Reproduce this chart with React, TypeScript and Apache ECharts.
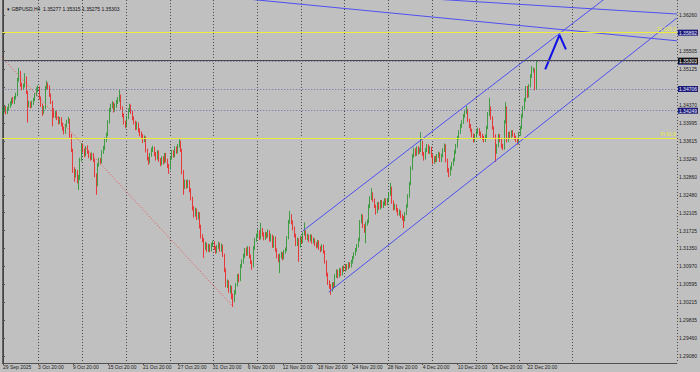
import React, { useEffect, useRef } from "react";
import * as echarts from "echarts";

// GBPUSD H4 — prices stored as pips above 1.30000
const BASE = 1.3;
const FIRST_OPEN = 420;
const CLOSE = [
  426,431,422,429,435,439,448,443,452,458,
  490,506,479,473,477,494,464,437,439,435,
  441,448,458,469,473,452,437,422,431,473,
  479,475,458,443,426,414,420,410,401,408,
  397,389,380,393,401,405,372,342,300,290,
  296,279,283,321,351,342,332,346,338,330,
  325,332,321,290,269,311,321,317,338,346,
  363,374,401,426,435,439,426,435,443,448,
  456,431,416,401,393,410,426,435,422,410,
  401,389,397,384,376,372,363,368,342,325,
  317,332,342,346,334,325,338,321,313,325,
  317,332,321,309,304,325,338,330,346,338,
  351,359,342,296,266,275,266,275,258,241,
  220,205,216,199,208,182,161,153,136,144,
  132,140,132,142,146,136,128,138,144,132,
  140,121,90,58,64,48,52,35,27,43,
  58,77,69,98,107,119,132,123,136,119,
  107,98,136,153,161,170,157,174,165,157,
  165,161,170,153,161,140,157,132,119,111,
  119,123,115,128,132,157,191,203,191,178,
  163,144,153,140,157,149,165,170,157,161,
  153,161,149,153,144,140,149,136,132,140,
  128,107,81,64,56,48,60,56,77,86,
  77,90,81,94,90,98,94,102,98,107,
  115,123,132,140,153,191,203,182,174,187,
  191,224,241,250,237,224,212,229,220,233,
  224,229,237,229,237,250,262,233,220,224,
  216,208,212,203,199,195,208,224,245,271,
  304,330,342,334,346,338,342,359,334,325,
  342,351,338,346,330,317,325,321,330,334,
  321,330,342,351,321,300,292,304,313,321,
  338,351,368,380,393,401,414,422,426,405,
  393,384,374,363,372,380,384,376,372,368,
  363,370,389,418,431,410,389,372,338,351,
  372,363,351,346,401,431,363,376,372,380,
  374,368,363,359,376,389,414,431,448,473,
  456,477,498,511,511,473,527.7,530.3
];
const HIGH = [
  432,436,435,433,440,445,452,454,456,463,
  494,515,509,484,482,504,497,467,446,444,
  446,452,462,474,478,476,455,440,435,477,
  488,484,478,461,446,430,425,424,413,412,
  411,400,392,397,406,412,408,376,345,306,
  302,300,290,326,357,356,346,350,352,342,
  335,337,336,324,293,315,326,325,342,351,
  368,379,405,431,440,445,443,440,448,454,
  469,459,434,419,404,414,430,440,438,425,
  413,404,402,400,388,381,376,373,371,345,
  328,336,347,351,349,338,342,341,325,329,
  329,336,336,324,313,329,342,342,350,350,
  355,365,362,345,300,280,279,280,279,262,
  244,224,221,219,212,211,185,165,157,149,
  147,145,144,147,151,150,140,142,149,147,
  145,143,124,93,70,68,58,56,40,47,
  62,81,82,102,112,124,136,137,140,139,
  122,110,140,157,166,175,173,189,178,169,
  170,169,175,173,166,164,161,160,135,123,
  124,128,127,132,137,161,195,214,207,194,
  181,166,158,156,161,160,169,190,173,166,
  164,165,164,158,156,148,153,152,140,144,
  143,131,110,84,68,60,64,64,81,91,
  90,94,93,98,99,102,102,106,106,111,
  119,127,136,144,157,195,208,206,186,191,
  196,228,245,262,253,240,227,233,233,237,
  237,234,241,240,241,254,273,265,236,229,
  228,220,217,215,207,203,212,228,249,275,
  308,334,347,346,350,350,347,380,362,338,
  346,355,354,350,349,333,329,330,334,339,
  337,334,346,356,354,324,304,308,317,325,
  342,355,372,384,397,405,418,427,435,429,
  408,397,387,377,376,384,389,388,381,376,
  372,375,393,422,452,434,413,392,375,355,
  376,376,366,355,405,443,434,380,381,384,
  384,378,372,367,380,393,418,435,452,477,
  477,481,502,519,516,514,531,531.5
];
const LOW = [
  416,421,417,418,425,431,436,440,439,448,
  455,486,475,468,469,474,460,400,432,430,
  431,437,445,455,464,448,433,414,418,428,
  469,470,454,439,392,410,409,405,396,397,
  392,383,375,376,390,398,368,338,294,275,
  284,272,258,279,318,337,327,329,334,325,
  320,321,317,285,248,266,307,312,314,334,
  342,359,371,398,422,430,421,423,431,439,
  444,427,411,396,388,390,407,422,418,405,
  396,384,385,379,371,366,357,359,337,320,
  311,314,328,338,329,320,322,317,308,310,
  312,314,316,304,292,301,322,326,327,334,
  335,347,338,291,248,260,261,262,253,236,
  215,200,202,195,196,177,156,148,115,132,
  127,128,127,129,138,132,124,125,134,128,
  128,117,85,53,52,42,40,28,12,22,
  38,55,64,66,94,103,115,119,120,114,
  102,90,95,132,149,157,153,154,160,152,
  153,156,158,149,150,136,137,128,114,106,
  83,114,110,112,124,129,154,187,186,173,
  158,140,140,107,137,145,146,162,153,152,
  148,150,145,145,140,135,137,132,127,129,
  124,103,76,58,50,37,44,50,53,73,
  72,74,77,78,86,86,89,91,94,95,
  103,112,120,128,137,150,188,178,168,146,
  183,188,220,237,233,220,206,209,216,217,
  220,220,225,225,226,234,246,229,215,216,
  212,204,204,199,194,178,192,205,221,242,
  268,300,326,329,330,333,334,338,330,320,
  322,338,334,334,326,312,313,316,317,326,
  317,317,327,338,316,295,285,288,300,309,
  318,334,347,364,376,389,397,410,418,401,
  388,380,369,358,359,368,376,372,367,363,
  358,359,366,386,414,406,385,368,317,334,
  348,359,346,342,343,398,358,359,367,368,
  370,364,359,353,355,372,386,410,427,444,
  452,453,474,494,505,468,470,527.5
];

const SLOTS = 463; // bar slots visible on the chart (incl. empty future)
const LABEL_STEP = 24;
const TIME_LABELS = [
  "29 Sep 2025", "3 Oct 20:00", "9 Oct 20:00", "15 Oct 20:00", "21 Oct 20:00",
  "27 Oct 20:00", "31 Oct 20:00", "6 Nov 20:00", "12 Nov 20:00", "18 Nov 20:00",
  "24 Nov 20:00", "28 Nov 20:00", "4 Dec 20:00", "10 Dec 20:00", "16 Dec 20:00",
  "22 Dec 20:00"
];
const GRID_BARS = [25, 55, 85, 115, 145, 175, 205, 235, 265, 295, 325, 355, 391];
const PRICE_TICKS = [
  "1.36260", "1.35880", "1.35505", "1.35125", "1.34745", "1.34370", "1.33995",
  "1.33615", "1.33240", "1.32860", "1.32480", "1.32105", "1.31725", "1.31350",
  "1.30970", "1.30595", "1.30215", "1.29835", "1.29460", "1.29080"
];
// tick labels that sit under a price-box on the axis (hidden there)
const COVERED_TICKS = ["1.35880", "1.34745"];
const Y_MIN = 1.28938;
const Y_MAX = 1.3658;

const TITLE = "GBPUSD,H4  1.35277 1.35315 1.35275 1.35303";
const BID = 1.35303;
const FIB_LEVELS = [
  { text: "Fi 100.0", price: 1.35892 },
  { text: "Fi 61.8", price: 1.33675 }
];
const H_LEVELS = [1.35892, 1.35281, 1.34706, 1.34249];
const H_DOTTED = [false, true, true, true];

const CHANNEL_UPPER = [[205.7, 1.31717], [430, 1.37008]];
const CHANNEL_LOWER = [[223.5, 1.30431], [462.5, 1.36201]];
const TOP_LINE_A = [[160, 1.36624], [462.5, 1.35721]];
const TOP_LINE_B = [[290, 1.3661], [462.5, 1.36285]];
const FIB_TREND = [[-0.5, 1.35363], [158, 1.3012]];
const ARROW = [[372.1, 1.35121], [381.9, 1.35843], [386.3, 1.35542]];

const FONT = "Liberation Sans";
const GREEN = "#1f9427";
const RED = "#f01818";
const BLUE = "#4f4ff0";
const YELLOW = "#ecec3c";
const NAVY = "#1c1c78";
const AXIS = "#505050";

export default function App() {
  const ref = useRef<HTMLDivElement>(null);
  useEffect(() => {
    if (!ref.current) return;
    const chart = echarts.init(ref.current, undefined, { renderer: "svg" });
    const px = (o: number) => +(BASE + o / 10000).toFixed(5);
    const candles = CLOSE.map((c, i) => {
      const o = i === 0 ? FIRST_OPEN : CLOSE[i - 1];
      return [px(o), px(c), px(LOW[i]), px(HIGH[i])];
    });
    const cats = Array.from({ length: SLOTS }, (_, i) =>
      i % LABEL_STEP === 0 && i / LABEL_STEP < TIME_LABELS.length ? TIME_LABELS[i / LABEL_STEP] : ""
    );
    const labelInterval = (i: number) => i % LABEL_STEP === 0 && i / LABEL_STEP < TIME_LABELS.length;
    const gridInterval = (i: number) => GRID_BARS.indexOf(i) >= 0;
    const tickValues = PRICE_TICKS.map((t) => parseFloat(t));
    const labelValues = PRICE_TICKS.filter((t) => COVERED_TICKS.indexOf(t) < 0).map((t) => parseFloat(t));

    const lineSeries = (data: number[][], color: string, width: number, type: any = "solid") => ({
      type: "line",
      xAxisIndex: 1,
      yAxisIndex: 0,
      data,
      symbol: "none",
      showSymbol: false,
      silent: true,
      clip: true,
      lineStyle: { color, width, type },
      z: 3
    });

    const boxLabel = (text: string, bg: string, fg: string) => ({
      show: true,
      position: "end",
      distance: 1,
      formatter: text,
      color: fg,
      backgroundColor: bg,
      fontSize: 5,
      fontFamily: FONT,
      padding: [0.5, 1],
      lineHeight: 5
    });

    const markData: any[] = [];
    H_LEVELS.forEach((p, i) => {
      markData.push({
        yAxis: p,
        lineStyle: H_DOTTED[i]
          ? { color: "#6a6aa6", width: 1, type: [1, 2] }
          : { color: "rgba(0,0,0,0)", width: 0 },
        label: boxLabel(p.toFixed(5), NAVY, "#e8e8ff")
      });
    });
    FIB_LEVELS.forEach((f) => {
      markData.push({
        yAxis: f.price,
        lineStyle: { color: YELLOW, width: 1, type: "solid" },
        label: {
          show: true,
          position: "insideEndTop",
          distance: 1,
          formatter: f.text,
          color: YELLOW,
          fontSize: 5,
          fontFamily: FONT
        }
      });
    });
    markData.push({
      yAxis: BID,
      lineStyle: { color: "#484848", width: 1, type: "solid" },
      label: boxLabel(BID.toFixed(5), "#101010", "#ffffff")
    });

    chart.setOption({
      animation: false,
      backgroundColor: "#c0c0c0",
      textStyle: { fontFamily: FONT },
      title: {
        text: "\u25BE " + TITLE,
        left: 2,
        top: 1.5,
        textStyle: { fontSize: 5, fontWeight: "normal", color: "#101010", fontFamily: FONT }
      },
      grid: { left: 1, right: 23, top: 0, bottom: 9 },
      xAxis: [
        {
          type: "category",
          data: cats,
          boundaryGap: true,
          axisLine: { lineStyle: { color: AXIS, width: 1 } },
          axisTick: { show: true, interval: labelInterval, alignWithLabel: true, length: 2, lineStyle: { color: AXIS } },
          axisLabel: {
            interval: labelInterval,
            align: "left",
            margin: 1.5,
            fontSize: 5,
            color: "#202020",
            fontFamily: FONT
          },
          splitLine: { show: true, interval: gridInterval, lineStyle: { color: "#4a4a4a", width: 1, type: [1, 2] } }
        },
        { type: "value", min: -0.5, max: SLOTS - 0.5, show: false }
      ],
      yAxis: [
        {
          type: "value",
          position: "right",
          min: Y_MIN,
          max: Y_MAX,
          axisLine: { show: true, lineStyle: { color: AXIS, width: 1 } },
          axisTick: { show: true, customValues: tickValues, length: 2, lineStyle: { color: AXIS } },
          axisLabel: {
            customValues: labelValues,
            formatter: (v: number) => v.toFixed(5),
            fontSize: 5,
            margin: 2,
            color: "#202020",
            fontFamily: FONT
          },
          splitLine: { show: false }
        },
        {
          type: "value",
          position: "left",
          min: Y_MIN,
          max: Y_MAX,
          axisLine: { show: true, lineStyle: { color: "#404040", width: 1.5 } },
          axisTick: { show: false },
          axisLabel: { show: false },
          splitLine: { show: false }
        }
      ],
      series: [
        {
          type: "candlestick",
          xAxisIndex: 0,
          yAxisIndex: 0,
          data: candles,
          barWidth: 1,
          itemStyle: { color: GREEN, color0: RED, borderColor: GREEN, borderColor0: RED, borderWidth: 0.8 },
          markLine: { silent: true, symbol: ["none", "none"], precision: 5, animation: false, data: markData },
          z: 2
        },
        lineSeries(CHANNEL_UPPER, BLUE, 1),
        lineSeries(CHANNEL_LOWER, BLUE, 1),
        lineSeries(TOP_LINE_A, BLUE, 1),
        lineSeries(TOP_LINE_B, BLUE, 1),
        lineSeries(FIB_TREND, "#f04848", 1, [1, 2]),
        lineSeries(ARROW, "#1010e8", 2)
      ]
    });
    return () => chart.dispose();
  }, []);
  return <div ref={ref} style={{ position: "absolute", left: 0, top: 0, width: 700, height: 372 }} />;
}
